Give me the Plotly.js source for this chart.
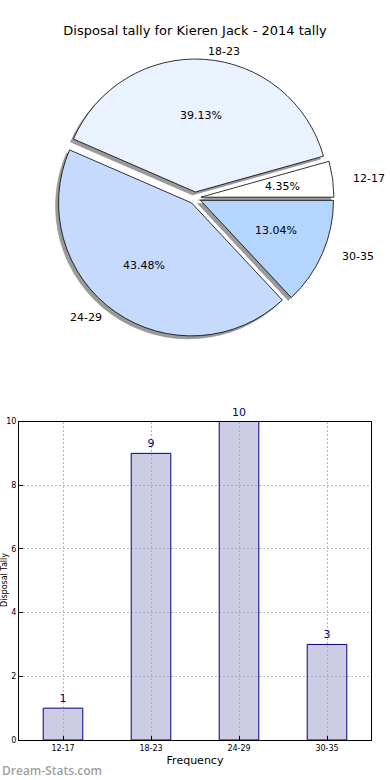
<!DOCTYPE html>
<html><head><meta charset="utf-8">
<script src="https://cdn.plot.ly/plotly-3.0.1.min.js"></script>
<style>html,body{margin:0;padding:0;background:#fff}</style>
</head><body><div id="chart" style="width:390px;height:780px"></div>
<script>
const categories = ['12-17', '18-23', '24-29', '30-35'];
const tallies = [1, 9, 10, 3];
const pieColors = ['#ffffff', '#eaf1ff', '#c6dafe', '#b4d5fe'];
const chartTitle = 'Disposal tally for Kieren Jack - 2014 tally';
const xTitle = 'Frequency';
const yTitle = 'Disposal Tally';
const watermark = 'Dream-Stats.com';
const yTicks = [0, 2, 4, 6, 8, 10];

const W = 390, H = 780;
const FONT = 'DejaVu Sans, Verdana, sans-serif';
const cx = 195, cy = 198, r = 133, pull = 0.045;
const rx = 138, ry = 128; // text placement radii (reference pie is slightly elliptical)
const half = r * (1 + pull);
function dom(dx, dy) {
  return {x: [(cx - half + dx) / W, (cx + half + dx) / W],
          y: [1 - (cy + half + dy) / H, 1 - (cy - half + dy) / H]};
}

const total = tallies.reduce((a, b) => a + b, 0);
const ann = [];
let acc = 0;
tallies.forEach((v, i) => {
  const frac = v / total;
  const mid = (acc + frac / 2) * 2 * Math.PI;
  acc += frac;
  const c = Math.cos(mid), s = Math.sin(mid);
  const ox = cx + pull * r * c, oy = cy - pull * r * s;
  ann.push({xref: 'paper', yref: 'paper', x: (ox + 0.6 * rx * c) / W, y: 1 - (oy - 0.6 * ry * s) / H,
    text: (frac * 100).toFixed(2) + '%', showarrow: false, xanchor: 'center', yanchor: 'middle',
    font: {family: FONT, size: 11, color: '#000'}});
  ann.push({xref: 'paper', yref: 'paper', x: (ox + 1.1 * rx * c) / W, y: 1 - (oy - 1.1 * ry * s) / H,
    text: categories[i], showarrow: false, xanchor: c > 0 ? 'left' : 'right', yanchor: 'middle',
    font: {family: FONT, size: 11, color: '#000'}});
});
ann.push({xref: 'paper', yref: 'paper', x: 4 / W, y: 1 - 580 / H, text: yTitle, textangle: -90,
  showarrow: false, xanchor: 'center', yanchor: 'middle', font: {family: FONT, size: 8, color: '#000'}});
ann.push({xref: 'paper', yref: 'paper', x: 0, y: 1 - 770 / H, text: watermark, showarrow: false,
  xanchor: 'left', yanchor: 'middle', font: {family: 'Open Sans, sans-serif', size: 12, weight: 600, color: '#a0a0a0'}});

const pieCommon = {type: 'pie', values: tallies, labels: categories, sort: false,
  direction: 'counterclockwise', rotation: 90 - 360 * tallies[0] / total, pull: tallies.map(() => pull),
  textinfo: 'none', hoverinfo: 'skip', showlegend: false};

const shadow = Object.assign({}, pieCommon, {domain: dom(-3, 3),
  marker: {colors: tallies.map(() => '#9a9a9a'), line: {color: '#8a8a8a', width: 0.5}}});
const pie = Object.assign({}, pieCommon, {domain: dom(0, 0),
  marker: {colors: pieColors, line: {color: '#000', width: 0.8}}});

const bar = {type: 'bar', x: categories, y: tallies, xaxis: 'x', yaxis: 'y', width: 0.45,
  marker: {color: 'rgba(153,153,204,0.5)', line: {color: '#000080', width: 1}},
  text: tallies.map(String), textposition: 'outside', cliponaxis: false,
  textfont: {family: FONT, size: 11, color: '#000080'}, hoverinfo: 'skip', showlegend: false};

const layout = {
  width: W, height: H, margin: {l: 0, r: 0, t: 0, b: 0},
  paper_bgcolor: '#fff', plot_bgcolor: '#fff',
  font: {family: FONT, color: '#000'},
  title: {text: chartTitle, font: {family: FONT, size: 13, color: '#000'}, x: 0.5, xanchor: 'center',
    xref: 'paper', y: 1 - 30 / H, yref: 'container', yanchor: 'middle'},
  xaxis: {domain: [19 / W, 371 / W], type: 'category', range: [-0.5, 3.5],
    showline: true, mirror: true, linecolor: '#000', linewidth: 1,
    showgrid: true, gridcolor: '#b8b8b8', griddash: '2px,2px', gridwidth: 1,
    ticks: 'inside', ticklen: 4, tickcolor: '#000', tickfont: {family: FONT, size: 8, color: '#000'},
    title: {text: xTitle, font: {family: FONT, size: 11, color: '#000'}, standoff: 4}, fixedrange: true},
  yaxis: {domain: [1 - 740 / H, 1 - 421.5 / H], range: [0, 10], tickvals: yTicks,
    showline: true, mirror: true, linecolor: '#000', linewidth: 1,
    showgrid: true, gridcolor: '#b8b8b8', griddash: '2px,2px', gridwidth: 1, zeroline: false,
    ticks: 'inside', ticklen: 4, tickcolor: '#000', tickfont: {family: FONT, size: 8, color: '#000'},
    fixedrange: true},
  annotations: ann
};

Plotly.newPlot('chart', [shadow, pie, bar], layout, {displayModeBar: false, staticPlot: true});
</script></body></html>
